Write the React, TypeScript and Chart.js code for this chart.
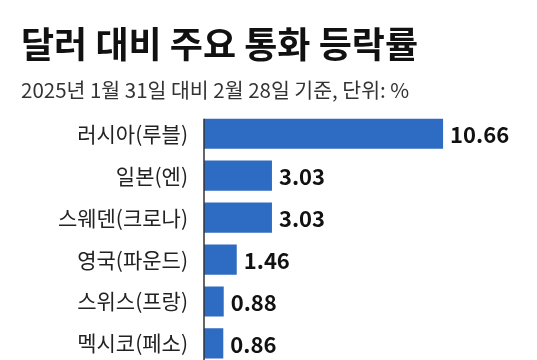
import React, { useEffect, useRef } from "react";
import { Chart, registerables } from "chart.js";

Chart.register(...registerables);

const titleText = "달러 대비 주요 통화 등락률";
const subtitleText = "2025년 1월 31일 대비 2월 28일 기준, 단위: %";
const categories = ["러시아(루블)", "일본(엔)", "스웨덴(크로나)", "영국(파운드)", "스위스(프랑)", "멕시코(페소)"];
const values = [10.66, 3.03, 3.03, 1.46, 0.88, 0.86];
const valueLabels = ["10.66", "3.03", "3.03", "1.46", "0.88", "0.86"];

const FONT = "'Noto Sans CJK KR', 'Noto Sans', sans-serif";

const valueLabelPlugin = {
  id: "valueLabels",
  afterDatasetsDraw(chart: any) {
    const ctx = chart.ctx;
    const meta = chart.getDatasetMeta(0);
    ctx.save();
    ctx.font = `bold 22px ${FONT}`;
    ctx.fillStyle = "#111";
    ctx.textAlign = "left";
    ctx.textBaseline = "middle";
    meta.data.forEach((bar: any, i: number) => {
      ctx.fillText(valueLabels[i], bar.x + 7, bar.y + 1);
    });
    const first = meta.data[0];
    const top = first.y - first.height / 2;
    const x = chart.chartArea.left;
    ctx.strokeStyle = "#333";
    ctx.lineWidth = 1.5;
    ctx.beginPath();
    ctx.moveTo(x, top);
    ctx.lineTo(x, chart.chartArea.bottom);
    ctx.stroke();
    ctx.restore();
  },
};

export default function App() {
  const ref = useRef<HTMLCanvasElement | null>(null);
  useEffect(() => {
    if (!ref.current) return;
    const chart = new Chart(ref.current, {
      type: "bar",
      data: {
        labels: categories,
        datasets: [
          {
            data: values,
            backgroundColor: "#2E6BC2",
            borderWidth: 0,
            categoryPercentage: 1,
            barPercentage: 0.72,
          },
        ],
      },
      options: {
        indexAxis: "y",
        animation: false,
        responsive: false,
        layout: { padding: { left: 21, right: 19, top: 0, bottom: 0 } },
        plugins: {
          legend: { display: false },
          tooltip: { enabled: false },
          title: {
            display: true,
            text: titleText,
            align: "start",
            color: "#111",
            font: { family: FONT, size: 36, weight: "bold" },
            padding: { top: 23, bottom: 0 },
          },
          subtitle: {
            display: true,
            text: subtitleText,
            align: "start",
            color: "#333",
            font: { family: FONT, size: 20.5 },
            padding: { top: 12, bottom: 10 },
          },
        },
        scales: {
          x: { display: false, min: 0, max: 14 },
          y: {
            afterFit: (s: any) => {
              s.width = 183;
            },
            grid: { display: false, drawTicks: false },
            border: { display: false },
            ticks: {
              padding: 16,
              color: "#222",
              font: { family: FONT, size: 21 },
            },
          },
        },
      },
      plugins: [valueLabelPlugin],
    });
    return () => chart.destroy();
  }, []);
  return (
    <div style={{ position: "fixed", left: 0, top: 0, width: 537, height: 360, overflow: "hidden", background: "#fff" }}>
      <canvas ref={ref} width={537} height={393} style={{ display: "block" }} />
    </div>
  );
}
